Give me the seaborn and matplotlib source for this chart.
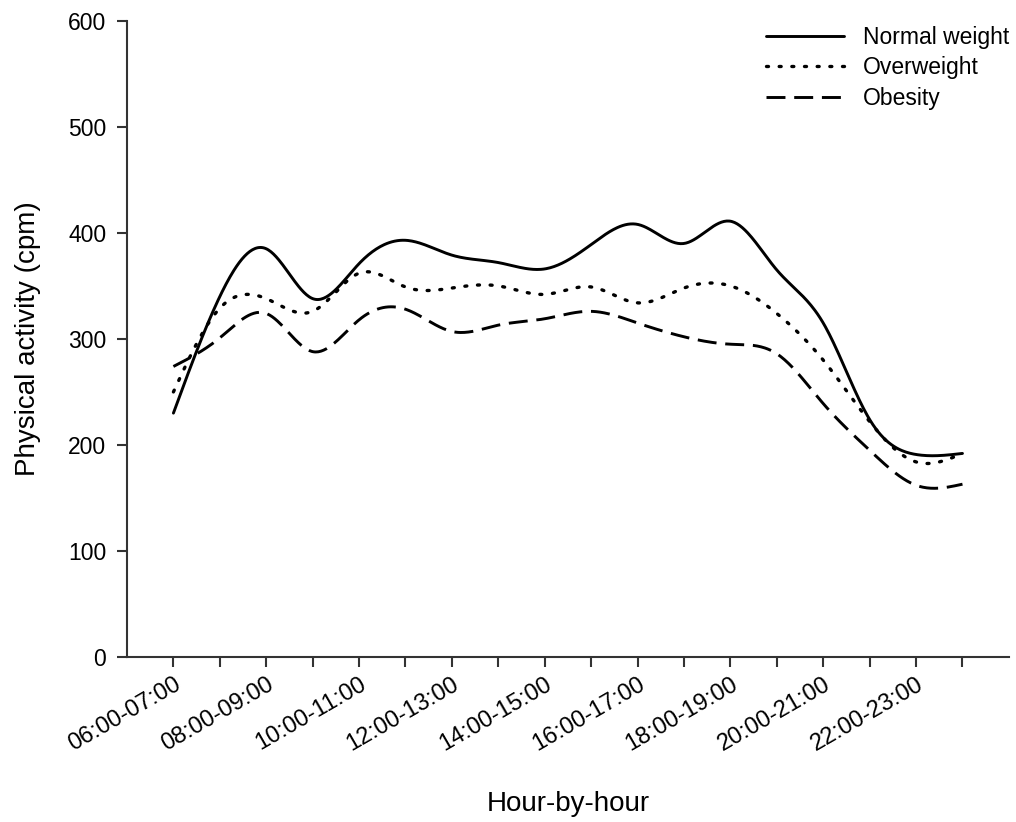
import numpy as np
import pandas as pd
import matplotlib
matplotlib.use("Agg")
import matplotlib.pyplot as plt
import seaborn as sns

# hourly slots, 06:00-07:00 ... 23:00-24:00
hours = [f"{h:02d}:00-{h + 1:02d}:00" for h in range(6, 24)]

# physical activity (cpm), one value per hour
normal_weight = [230, 340, 385, 338, 371, 393, 379, 372, 366, 389,
                 408, 390, 411, 365, 315, 224, 191, 192]
overweight = [250, 329, 338, 326, 362, 349, 348, 350, 342, 349,
              334, 348, 350, 324, 280, 222, 184, 192]
obesity = [274, 301, 324, 288, 318, 328, 307, 313, 319, 326,
           315, 302, 295, 286, 239, 195, 162, 163]


def spline_curve(xs, ys, n=600):
    """Natural cubic spline through the points, used only to draw a smooth line."""
    xs = np.asarray(xs, float)
    ys = np.asarray(ys, float)
    k = len(xs)
    h = np.diff(xs)
    A = np.zeros((k, k))
    b = np.zeros(k)
    A[0, 0] = A[-1, -1] = 1.0
    for i in range(1, k - 1):
        A[i, i - 1] = h[i - 1]
        A[i, i] = 2 * (h[i - 1] + h[i])
        A[i, i + 1] = h[i]
        b[i] = 6 * ((ys[i + 1] - ys[i]) / h[i] - (ys[i] - ys[i - 1]) / h[i - 1])
    M = np.linalg.solve(A, b)
    xf = np.linspace(xs[0], xs[-1], n)
    idx = np.clip(np.searchsorted(xs, xf) - 1, 0, k - 2)
    x0, x1 = xs[idx], xs[idx + 1]
    hh = x1 - x0
    t0, t1 = x1 - xf, xf - x0
    yf = (M[idx] * t0 ** 3 + M[idx + 1] * t1 ** 3) / (6 * hh) \
        + (ys[idx] / hh - M[idx] * hh / 6) * t0 \
        + (ys[idx + 1] / hh - M[idx + 1] * hh / 6) * t1
    return xf, yf


sns.set_style("ticks")
plt.rcParams["font.family"] = ["Liberation Sans", "DejaVu Sans"]
plt.rcParams["text.color"] = "black"
plt.rcParams["axes.labelcolor"] = "black"

fig = plt.figure(figsize=(10.16, 8.22), dpi=100)
ax = fig.add_axes([0.125, 0.2007, 0.868, 0.774])

pos = np.arange(len(hours))
series = [
    ("Normal weight", normal_weight, "-"),
    ("Overweight", overweight, (0, (0.6, 3.2))),
    ("Obesity", obesity, (0, (6.5, 3.0))),
]
for name, vals, style in series:
    xf, yf = spline_curve(pos, vals)
    sns.lineplot(x=xf, y=yf, ax=ax, color="black", linewidth=2.1,
                 label=name, sort=False)
    ln = ax.get_lines()[-1]
    ln.set_linestyle(style)
    if name == "Overweight":
        ln.set_dash_capstyle("round")
        ln.set_linewidth(2.4)

ax.set_xlim(-1, 18)
ax.set_ylim(0, 600)
ax.set_yticks(range(0, 601, 100))
ax.set_xticks(pos)
ax.set_xticklabels([lab if i % 2 == 0 else "" for i, lab in enumerate(hours)],
                   rotation=30, ha="right", rotation_mode="anchor")

for s in ["top", "right"]:
    ax.spines[s].set_visible(False)
for s in ["left", "bottom"]:
    ax.spines[s].set_linewidth(1.5)
    ax.spines[s].set_color("#333333")
ax.tick_params(axis="both", direction="out", length=7, width=1.5,
               color="#333333", labelcolor="black")
ax.tick_params(axis="y", labelsize=16.5, pad=8)
ax.tick_params(axis="x", labelsize=17, pad=5)

ax.set_xlabel("Hour-by-hour", fontsize=20, color="black")
ax.xaxis.set_label_coords(0.5, -0.21)
ax.set_ylabel("Physical activity (cpm)", fontsize=20, color="black")
ax.yaxis.set_label_coords(-0.098, 0.5)

leg = ax.legend(loc="upper right", frameon=False, fontsize=16.5,
                handlelength=3.4, handletextpad=0.85, labelspacing=0.32,
                borderaxespad=0.0, borderpad=0.4,
                bbox_to_anchor=(1.011, 1.006))
for lh in leg.get_lines():
    lh.set_color("black")
for t in leg.get_texts():
    t.set_color("black")

fig.savefig("out.png", dpi=100)
